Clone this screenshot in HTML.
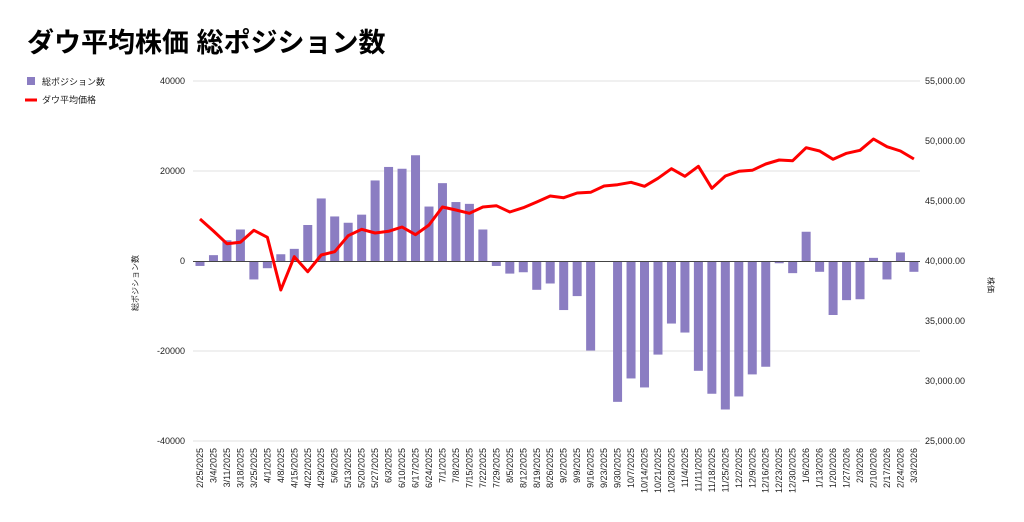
<!DOCTYPE html>
<html><head><meta charset="utf-8"><style>
body{margin:0;background:#fff;}
svg{display:block;font-family:"Liberation Sans","Noto Sans CJK JP",sans-serif;}
</style></head><body>
<svg id="s" width="1024" height="522" viewBox="0 0 1024 522">
<text x="27" y="52" font-size="27" font-weight="bold" fill="#000">ダウ平均株価 総ポジション数</text>
<rect x="27" y="77" width="8" height="8" fill="#8b7dc2"/>
<text x="42" y="85" font-size="9" fill="#222">総ポジション数</text>
<line x1="25" y1="100" x2="37" y2="100" stroke="#f00" stroke-width="3"/>
<text x="42" y="103" font-size="9" fill="#222">ダウ平均価格</text>
<g stroke="#e0e0e0" stroke-width="1">
<line x1="193" y1="81" x2="920" y2="81"/><line x1="193" y1="171" x2="920" y2="171"/>
<line x1="193" y1="351" x2="920" y2="351"/><line x1="193" y1="441" x2="920" y2="441"/>
</g>
<g font-size="9" fill="#222" text-anchor="end">
<text x="185" y="84">40000</text><text x="185" y="174">20000</text><text x="185" y="264">0</text>
<text x="185" y="354">-20000</text><text x="185" y="444">-40000</text>
</g>
<g font-size="9" fill="#222">
<text x="925" y="84">55,000.00</text><text x="925" y="144">50,000.00</text><text x="925" y="204">45,000.00</text>
<text x="925" y="264">40,000.00</text><text x="925" y="324">35,000.00</text><text x="925" y="384">30,000.00</text>
<text x="925" y="444">25,000.00</text>
</g>
<text transform="translate(138,283) rotate(-90)" font-size="8" fill="#222" text-anchor="middle">総ポジション数</text>
<text transform="translate(988,285) rotate(90)" font-size="8" fill="#222" text-anchor="middle">株価</text>
<g id="bars" fill="#8b7dc2"></g>
<line x1="193" y1="261.5" x2="920" y2="261.5" stroke="#444" stroke-width="1"/>
<polyline id="ln" fill="none" stroke="#f00" stroke-width="3" stroke-linejoin="round"/>
<g id="xl" font-size="9" fill="#222" text-anchor="end">
<text>2/25/2025</text><text>3/4/2025</text><text>3/11/2025</text><text>3/18/2025</text><text>3/25/2025</text><text>4/1/2025</text><text>4/8/2025</text><text>4/15/2025</text><text>4/22/2025</text><text>4/29/2025</text><text>5/6/2025</text><text>5/13/2025</text><text>5/20/2025</text><text>5/27/2025</text><text>6/3/2025</text><text>6/10/2025</text><text>6/17/2025</text><text>6/24/2025</text><text>7/1/2025</text><text>7/8/2025</text><text>7/15/2025</text><text>7/22/2025</text><text>7/29/2025</text><text>8/5/2025</text><text>8/12/2025</text><text>8/19/2025</text><text>8/26/2025</text><text>9/2/2025</text><text>9/9/2025</text><text>9/16/2025</text><text>9/23/2025</text><text>9/30/2025</text><text>10/7/2025</text><text>10/14/2025</text><text>10/21/2025</text><text>10/28/2025</text><text>11/4/2025</text><text>11/11/2025</text><text>11/18/2025</text><text>11/25/2025</text><text>12/2/2025</text><text>12/9/2025</text><text>12/16/2025</text><text>12/23/2025</text><text>12/30/2025</text><text>1/6/2026</text><text>1/13/2026</text><text>1/20/2026</text><text>1/27/2026</text><text>2/3/2026</text><text>2/10/2026</text><text>2/17/2026</text><text>2/24/2026</text><text>3/3/2026</text>
</g>
</svg>
<script>
var v=[-1.1,1.3,4.6,7.0,-4.1,-1.6,1.5,2.7,8.0,13.9,9.9,8.5,10.3,17.9,20.9,20.5,23.5,12.1,17.3,13.1,12.7,7.0,-1.1,-2.8,-2.5,-6.4,-5.0,-10.9,-7.8,-19.9,0,-31.3,-26.1,-28.1,-20.8,-13.9,-15.9,-24.4,-29.5,-33.0,-30.1,-25.2,-23.5,-0.5,-2.7,6.5,-2.4,-12.0,-8.7,-8.5,0.7,-4.1,1.9,-2.4];
var ly=[219,231,243.7,242.3,230.3,237.3,290,256.7,271.7,255,251.7,235.7,229.3,233,231.3,227,234.7,225,207,210,213.3,207,205.7,212,207.7,202,196,197.7,193,192.3,186,184.7,182.3,186.3,178.3,168.7,176.3,166.3,188.3,176,171.3,170.3,164,160,160.7,147.7,151,159.3,153.3,150.3,139,146.7,151,159];
var ns="http://www.w3.org/2000/svg",b=document.getElementById("bars"),pts=[],xl=document.getElementById("xl").children;
for(var i=0;i<54;i++){var x=200+i*13.47,h=v[i]*4.5,r=document.createElementNS(ns,"rect");
r.setAttribute("x",x-4.5);r.setAttribute("width",9);r.setAttribute("y",h>0?261-h:261);r.setAttribute("height",Math.max(Math.abs(h),0.5));b.appendChild(r);
pts.push(x+","+ly[i]);xl[i].setAttribute("transform","translate("+(x+3)+",448) rotate(-90)");}
document.getElementById("ln").setAttribute("points",pts.join(" "));
</script>
</body></html>
